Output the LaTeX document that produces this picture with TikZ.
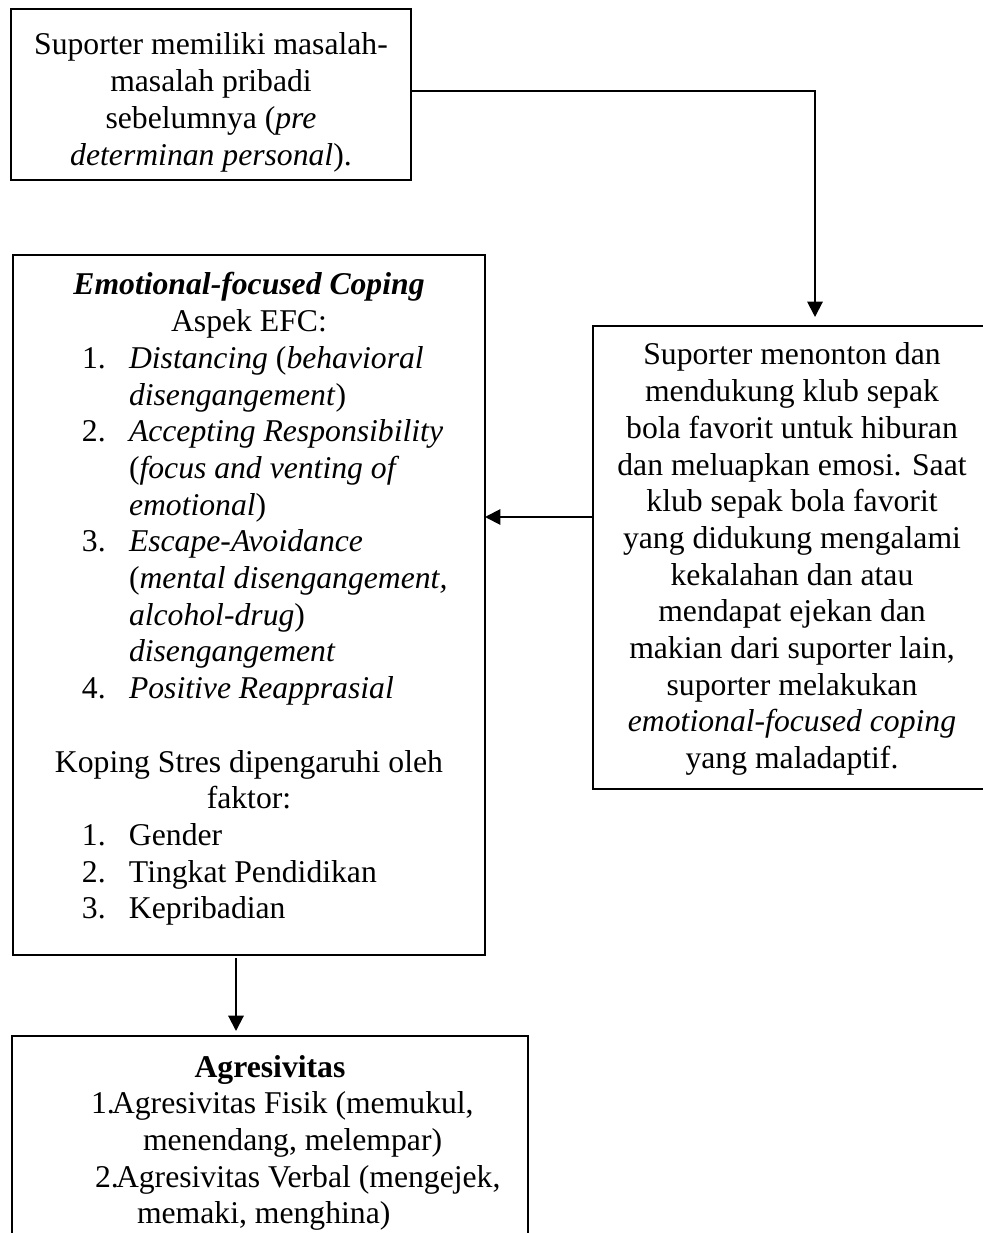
\documentclass[tikz,border=0pt]{standalone}
\usepackage{fontspec}
\setmainfont{Liberation Serif}
\usepackage{tikz}
\usetikzlibrary{arrows.meta}

\newdimen\px
\px=0.3788pt
\newcommand{\topgap}[1]{\vspace*{\dimexpr#1\px-10pt\relax}\rule{0pt}{10pt}}
\newcommand{\boxtext}[4]{\parbox[t][#2\px][t]{#1\px}{\centering\topgap{#3}#4}}
\newcommand{\listline}[4]{\makebox[\linewidth][l]{\hspace*{#1\px}\makebox[\dimexpr#2\px-#1\px\relax][l]{#3}#4}}

\begin{document}
\begin{tikzpicture}[x=0.3788pt, y=-0.3788pt,
    box/.style={draw, line width=0.75pt, inner sep=0pt, outer sep=0pt,
        font=\fontsize{12pt}{13.9pt}\selectfont},
    arr/.style={line width=0.75pt, -{Triangle[length=5.8pt, width=5.8pt]}}]
    \useasboundingbox (0,0) rectangle (982,1233);
    \node[box, anchor=north west] (masalah) at (11,9) {\boxtext{400}{171}{46}{%
        Suporter memiliki masalah-\\
        masalah pribadi\\
        sebelumnya (\textit{pre}\\
        \textit{determinan personal}).}};
    \node[box, anchor=north west] (menonton) at (593,326) {\boxtext{398}{463}{39}{%
        Suporter menonton dan\\
        mendukung klub sepak\\
        bola favorit untuk hiburan\\
        dan meluapkan emosi. Saat\\
        klub sepak bola favorit\\
        yang didukung mengalami\\
        kekalahan dan atau\\
        mendapat ejekan dan\\
        makian dari suporter lain,\\
        suporter melakukan\\
        \textit{emotional-focused coping}\\
        yang maladaptif.}};
    \node[box, anchor=north west] (efc) at (13,255) {\boxtext{472}{700}{40}{%
        \textbf{\textit{Emotional-focused Coping}}\\
        Aspek EFC:\\
        \listline{69}{116}{1.}{\textit{Distancing} (\textit{behavioral}}\\
        \listline{69}{116}{}{\textit{disengangement})}\\
        \listline{69}{116}{2.}{\textit{Accepting Responsibility}}\\
        \listline{69}{116}{}{(\textit{focus and venting of}}\\
        \listline{69}{116}{}{\textit{emotional})}\\
        \listline{69}{116}{3.}{\textit{Escape-Avoidance}}\\
        \listline{69}{116}{}{(\textit{mental disengangement,}}\\
        \listline{69}{116}{}{\textit{alcohol-drug})}\\
        \listline{69}{116}{}{\textit{disengangement}}\\
        \listline{69}{116}{4.}{\textit{Positive Reapprasial}}\\[\baselineskip]
        Koping Stres dipengaruhi oleh\\
        faktor:\\
        \listline{69}{116}{1.}{Gender}\\
        \listline{69}{116}{2.}{Tingkat Pendidikan}\\
        \listline{69}{116}{3.}{Kepribadian}}};
    \node[box, anchor=north west] (agresi) at (12,1036) {\boxtext{516}{230}{41}{%
        \textbf{Agresivitas}\\
        \listline{79}{100}{1.}{Agresivitas Fisik (memukul,}\\
        \listline{131}{131}{}{menendang, melempar)}\\
        \listline{83}{104}{2.}{Agresivitas Verbal (mengejek,}\\
        \listline{125}{125}{}{memaki, menghina)}}};
    \draw[arr] ([yshift=3.5\px]masalah.east) -| ([xshift=23\px, yshift=9\px]menonton.north);
    \draw[arr] ([yshift=40.5\px]menonton.west) -- ([yshift=88\px]efc.east);
    \draw[arr] ([xshift=-13\px, yshift=-3\px]efc.south) -- ([xshift=-34\px, yshift=5\px]agresi.north);
\end{tikzpicture}
\end{document}
